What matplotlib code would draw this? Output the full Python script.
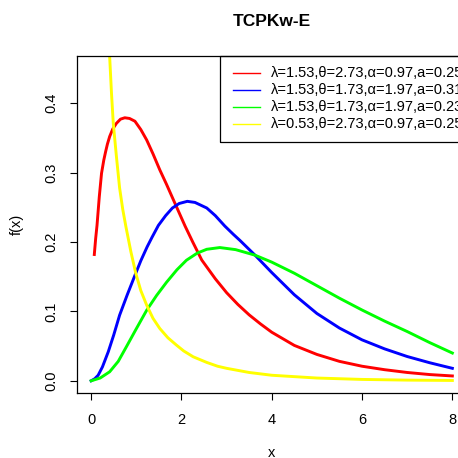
import numpy as np
import matplotlib
matplotlib.use("Agg")
import matplotlib.pyplot as plt
from matplotlib.lines import Line2D
from matplotlib.patches import Rectangle

plt.rcParams["font.family"] = ["Liberation Sans", "DejaVu Sans"]

# values
red_x = [0.07, 0.10, 0.13, 0.18, 0.23, 0.28, 0.32, 0.36, 0.41, 0.48, 0.56, 0.65, 0.745, 0.85,
         0.97, 1.1, 1.23, 1.37, 1.52, 1.67, 1.82, 1.95, 2.08, 2.25, 2.45, 2.75, 3.0, 3.25,
         3.5, 3.75, 4.0, 4.5, 5.0, 5.5, 6.0, 6.5, 7.0, 7.5, 8.0]
red_y = [0.182, 0.205, 0.224, 0.265, 0.299, 0.318, 0.330, 0.341, 0.352, 0.363, 0.371, 0.377, 0.379, 0.378,
         0.374, 0.362, 0.347, 0.327, 0.304, 0.283, 0.261, 0.242, 0.223, 0.200, 0.174, 0.147, 0.127, 0.110,
         0.095, 0.082, 0.070, 0.051, 0.038, 0.028, 0.021, 0.016, 0.012, 0.009, 0.007]

blue_x = [0.0, 0.08, 0.155, 0.25, 0.38, 0.5, 0.63, 0.8, 0.97, 1.1, 1.24, 1.35, 1.49, 1.65,
          1.8, 1.95, 2.13, 2.3, 2.56, 2.75, 2.96, 3.15, 3.3, 3.63, 4.0, 4.5, 5.0, 5.5,
          6.0, 6.5, 7.0, 7.5, 8.0]
blue_y = [0.0, 0.003, 0.008, 0.020, 0.042, 0.066, 0.0945, 0.124, 0.152, 0.173, 0.193, 0.207, 0.224, 0.238,
          0.249, 0.2555, 0.2586, 0.257, 0.249, 0.238, 0.223, 0.211, 0.202, 0.181, 0.156, 0.124, 0.097, 0.076,
          0.059, 0.046, 0.035, 0.026, 0.018]

green_x = [0.0, 0.2, 0.41, 0.6, 0.78, 1.0, 1.23, 1.45, 1.67, 1.9, 2.11, 2.35, 2.56, 2.85,
           3.2, 3.63, 4.0, 4.5, 5.0, 5.5, 6.0, 6.5, 7.0, 7.5, 8.0]
green_y = [0.0, 0.004, 0.013, 0.028, 0.049, 0.075, 0.1017, 0.123, 0.142, 0.160, 0.1737, 0.184, 0.1895, 0.192,
           0.189, 0.181, 0.171, 0.155, 0.137, 0.119, 0.102, 0.086, 0.071, 0.055, 0.040]

yellow_x = [0.33, 0.36, 0.41, 0.45, 0.49, 0.56, 0.63, 0.70, 0.77, 0.88, 0.99, 1.1, 1.23, 1.37,
            1.52, 1.7, 1.89, 2.05, 2.26, 2.56, 2.8, 3.0, 3.5, 4.0, 5.0, 6.0, 7.0, 8.0]
yellow_y = [0.58, 0.53, 0.467, 0.415, 0.371, 0.323, 0.278, 0.247, 0.222, 0.186, 0.1545, 0.130, 0.109, 0.090,
            0.0754, 0.062, 0.0514, 0.043, 0.0346, 0.0265, 0.021, 0.018, 0.012, 0.008, 0.004, 0.002, 0.001, 0.0005]

labels = ["\u03bb=1.53,\u03b8=2.73,\u03b1=0.97,a=0.25",
          "\u03bb=1.53,\u03b8=1.73,\u03b1=1.97,a=0.31",
          "\u03bb=1.53,\u03b8=1.73,\u03b1=1.97,a=0.23",
          "\u03bb=0.53,\u03b8=2.73,\u03b1=0.97,a=0.25"]
colors = ["#ff0000", "#0000ff", "#00ff00", "#ffff00"]

W = 458.0
fig = plt.figure(figsize=(4.58, 4.58), dpi=100)
ax = fig.add_axes([76.7 / W, 1 - 393.3 / W, (466.8 - 76.7) / W, (393.3 - 56) / W])

series = [(red_x, red_y), (blue_x, blue_y), (green_x, green_y), (yellow_x, yellow_y)]
for (xs, ys), c in zip(series, colors):
    ax.plot(xs, ys, color=c, lw=2.1, solid_joinstyle="round", clip_on=True)

ax.set_xlim(-0.32, 8.32)
ax.set_ylim(-0.018, 0.468)
ax.set_xticks([0, 2, 4, 6, 8])
ax.set_yticks([0.0, 0.1, 0.2, 0.3, 0.4])
ax.set_xticklabels(["0", "2", "4", "6", "8"])
ax.set_yticklabels(["0.0", "0.1", "0.2", "0.3", "0.4"], rotation=90, va="center")
ax.tick_params(length=5, width=0.8, labelsize=10.5, colors="black")
ax.tick_params(axis="x", pad=9)
ax.tick_params(axis="y", pad=8)
for sp in ax.spines.values():
    sp.set_linewidth(0.9)

fig.text(271.7 / W, 1 - 22 / W, "TCPKw-E", ha="center", va="center",
         fontsize=12.5, fontweight="bold")
fig.text(271.7 / W, 1 - 453 / W, "x", ha="center", va="center", fontsize=10.5)
fig.text(17 / W, 1 - 224.6 / W, "f(x)", ha="center", va="center", fontsize=10.5, rotation=90)

# legend box, drawn like R's legend()
fig.patches.append(Rectangle((220.3 / W, 1 - 141.7 / W), 300 / W, (141.7 - 56) / W,
                             transform=fig.transFigure, fill=False, ec="black", lw=0.9))
rows = [72.7, 89.7, 107.0, 124.3]
for lab, c, ry in zip(labels, colors, rows):
    fig.lines.append(Line2D([233 / W, 260 / W], [1 - ry / W, 1 - ry / W],
                            transform=fig.transFigure, color=c, lw=1.0))
    fig.text(271.3 / W, 1 - ry / W, lab, ha="left", va="center", fontsize=10.5)

fig.savefig("out.png", dpi=100)
